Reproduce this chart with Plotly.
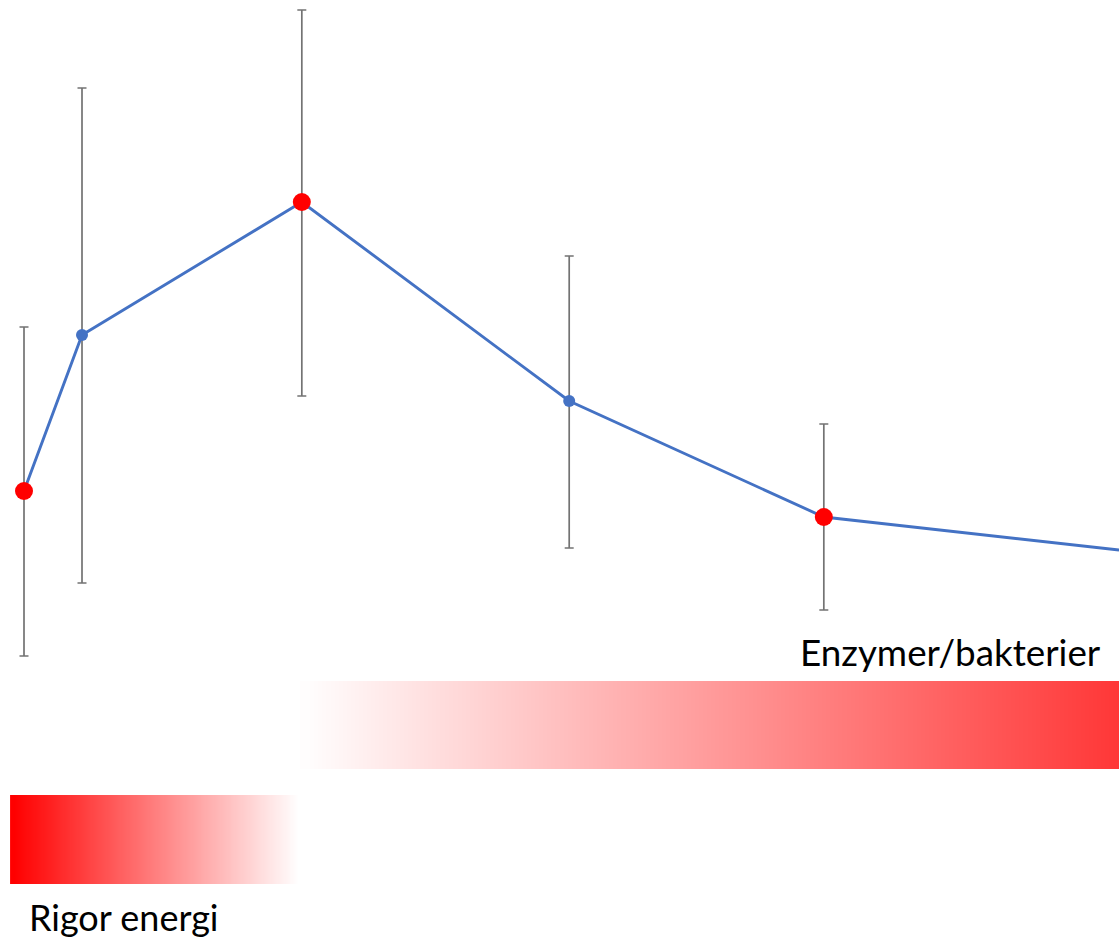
import numpy as np
import plotly.graph_objects as go

# --- data (arbitrary units) ---
time_pts = [0.0, 1.0, 4.79, 9.40, 13.79]
means = [4.48, 6.04, 7.37, 5.38, 4.22]
err_plus = [1.64, 2.47, 1.92, 1.45, 0.93]
err_minus = [1.65, 2.48, 1.94, 1.47, 0.93]
point_colors = ["#FF0000", "#4472C4", "#FF0000", "#4472C4", "#FF0000"]
point_sizes = [18, 12, 18, 12, 18]

# line continues past the right edge
line_x = time_pts + [18.88]
line_y = means + [3.89]

# gradient bands: [x_start, x_end, y_low, y_high]
rigor_band = [-0.24, 4.76, 0.55, 1.44]
enzyme_band = [4.76, 19.5, 1.70, 2.58]
rigor_label = "Rigor energi"
enzyme_label = "Enzymer/bakterier"

fig = go.Figure()

def gradient_band(band, scale):
    x0, x1, y0, y1 = band
    n = 60
    xs = np.linspace(x0, x1, n + 1)
    z = [list(np.linspace(0, 1, n)), list(np.linspace(0, 1, n))]
    fig.add_trace(go.Heatmap(
        x=xs, y=[y0, (y0 + y1) / 2, y1], z=z,
        colorscale=scale, zmin=0, zmax=1, showscale=False,
        zsmooth="best", hoverinfo="skip"))

gradient_band(rigor_band, [[0, "rgb(255,0,0)"], [1, "rgb(255,255,255)"]])
gradient_band(enzyme_band, [[0, "rgb(255,253,253)"], [1, "rgb(255,48,48)"]])

fig.add_trace(go.Scatter(
    x=line_x, y=line_y, mode="lines",
    line=dict(color="#4472C4", width=2.9), hoverinfo="skip"))

fig.add_trace(go.Scatter(
    x=time_pts, y=means, mode="markers",
    marker=dict(color=point_colors, size=point_sizes, opacity=1, line=dict(width=0)),
    error_y=dict(type="data", symmetric=False, array=err_plus,
                 arrayminus=err_minus, color="#737373", thickness=1.7, width=4.5)))

fig.add_annotation(x=rigor_band[0] + 0.30, y=0.22, text=rigor_label,
                   showarrow=False, xanchor="left", yanchor="middle",
                   font=dict(family="Lato", size=36, color="black"))
fig.add_annotation(x=13.35, y=2.87, text=enzyme_label,
                   showarrow=False, xanchor="left", yanchor="middle",
                   font=dict(family="Lato", size=36.8, color="black"))

fig.update_layout(
    width=1119, height=939,
    margin=dict(l=0, r=0, t=0, b=0),
    paper_bgcolor="white", plot_bgcolor="white",
    showlegend=False,
    xaxis=dict(range=[-24 / 58, (1119 - 24) / 58], visible=False, fixedrange=True),
    yaxis=dict(range=[0, 9.39], visible=False, fixedrange=True),
)

fig.write_html("out.html", config={"displayModeBar": False},
               post_script="document.body.style.margin='0';")
